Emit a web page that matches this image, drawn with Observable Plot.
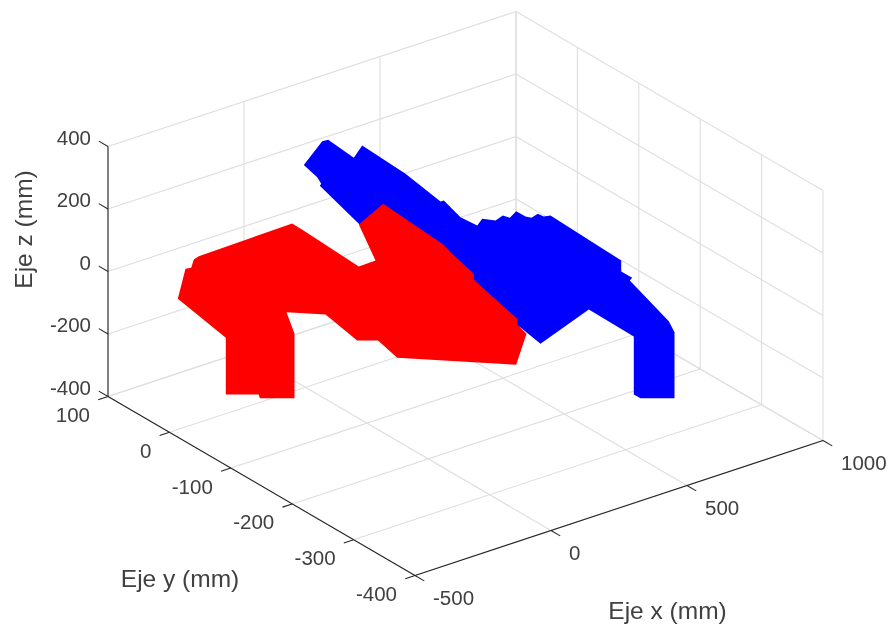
<!DOCTYPE html>
<html>
<head>
<meta charset="utf-8">
<style>
html,body{margin:0;padding:0;background:#fff}
svg{display:block;filter:blur(0.5px)}
</style>
<script src="https://cdn.jsdelivr.net/npm/d3@7"></script>
<script src="https://cdn.jsdelivr.net/npm/@observablehq/plot@0.6"></script>
</head>
<body>
<div id="chart"></div>
<script>
// Axis ticks (mm)
const xTicks = [-500, 0, 500, 1000];
const yTicks = [-400, -300, -200, -100, 0, 100];
const zTicks = [-400, -200, 0, 200, 400];

// Silhouettes of the two arm poses, read on the picture plane
const blueU = [303.3,321.7,327.7,353.3,361.7,405,440,443.3,460,476.7,481.7,495,502.3,509.3,515.7,525,531,537.3,543.3,550,620.7,620.7,631.7,629.3,668.3,674,674,640,633.3,633.3,588.3,540,520,358.3,319.3,320.7,316.7];
const blueV = [164.6,140.7,139.3,157.3,145,173.3,201,200,216.7,225,218.3,220,215,217.3,210.7,216,217.3,213.3,216,215,260,271,277.3,280,320.7,331.7,397.7,397.7,394,336,309,343.3,327,223.3,185.3,183.3,176.7];
const redU = [177.3,185,190.7,193.3,198.3,291.7,303,358.3,375,358.3,382.7,441.7,453.3,473.3,473.3,516.7,516.7,526,515.7,396.7,377.5,356.7,325,286,294,294,259.3,258.3,225.3,225.3];
const redV = [298.3,268.3,267.3,259,255.7,223,230,266,260,224,203.3,243.3,255,273.3,279.3,318.3,324,333.3,364.3,357.3,340,340,314,311.7,333.3,397.7,397.7,394,394,337.3];
const blue = blueU.map((u, i) => ({u, v: blueV[i]}));
const red = redU.map((u, i) => ({u, v: redV[i]}));

// Orthographic view of the 3D box onto the picture plane
const view = ([X, Y, Z]) => ({
  u: 414.5 + (X + 500) * 0.272 - (Y + 400) * 0.614,
  v: 575 - (X + 500) * 0.09 - (Y + 400) * 0.358 - (Z + 400) * 0.3125
});
const seg = (a, b) => { const p = view(a), q = view(b); return {x1: p.u, y1: p.v, x2: q.u, y2: q.v}; };
const X0 = -500, X1 = 1000, Y0 = -400, Y1 = 100, Z0 = -400, Z1 = 400;

const grid = [
  ...xTicks.map(x => seg([x, Y0, Z0], [x, Y1, Z0])),
  ...yTicks.map(y => seg([X0, y, Z0], [X1, y, Z0])),
  ...xTicks.map(x => seg([x, Y1, Z0], [x, Y1, Z1])),
  ...zTicks.map(z => seg([X0, Y1, z], [X1, Y1, z])),
  ...yTicks.map(y => seg([X1, y, Z0], [X1, y, Z1])),
  ...zTicks.map(z => seg([X1, Y0, z], [X1, Y1, z]))
];
const axes = [
  seg([X0, Y0, Z0], [X1, Y0, Z0]),
  seg([X0, Y0, Z0], [X0, Y1, Z0]),
  seg([X0, Y1, Z0], [X0, Y1, Z1])
];
const ticks = [
  ...xTicks.map(x => seg([x, Y0, Z0], [x, Y0 - 15, Z0])),
  ...yTicks.map(y => seg([X0, y, Z0], [X0 - 36, y, Z0])),
  ...zTicks.map(z => seg([X0, Y1, z], [X0, Y1 + 15, z]))
];
const xLabels = xTicks.map(x => ({...view([x, Y0, Z0]), t: String(x)}));
const yLabels = yTicks.map(y => ({...view([X0, y, Z0]), t: String(y)}));
const zLabels = zTicks.map(z => ({...view([X0, Y1, z]), t: String(z)}));

const font = "'Liberation Sans', Arial, sans-serif";
const ink = "#404040";
const tickText = (data, opts) => Plot.text(data, {x: "u", y: "v", text: "t", fontSize: 20.5, fill: ink, lineAnchor: "middle", ...opts});
const axisTitle = (t, u, v, rotate = 0) => Plot.text([{u, v, t}], {x: "u", y: "v", text: "t", fontSize: 24.5, fill: ink, lineAnchor: "middle", rotate});

const chart = Plot.plot({
  width: 889,
  height: 625,
  margin: 0,
  style: {fontFamily: font, background: "#fff"},
  x: {domain: [0, 889], range: [0, 889], axis: null},
  y: {domain: [0, 625], range: [0, 625], axis: null},
  marks: [
    Plot.link(grid, {x1: "x1", y1: "y1", x2: "x2", y2: "y2", stroke: "#dedede", strokeWidth: 1.1}),
    Plot.line(blue, {x: "u", y: "v", fill: "#0000ff", stroke: "none"}),
    Plot.line(red, {x: "u", y: "v", fill: "#ff0000", stroke: "none"}),
    Plot.link(axes, {x1: "x1", y1: "y1", x2: "x2", y2: "y2", stroke: "#262626", strokeWidth: 1.1}),
    Plot.link(ticks, {x1: "x1", y1: "y1", x2: "x2", y2: "y2", stroke: "#262626", strokeWidth: 1.1}),
    tickText(xLabels, {textAnchor: "start", dx: 18, dy: 22.5}),
    tickText(yLabels, {textAnchor: "end", dx: -18, dy: 19}),
    tickText(zLabels, {textAnchor: "end", dx: -17, dy: -8.5}),
    axisTitle("Eje x (mm)", 667, 610.5),
    axisTitle("Eje y (mm)", 179.5, 578.5),
    axisTitle("Eje z (mm)", 24, 229, -90)
  ]
});
document.getElementById("chart").appendChild(chart);
</script>
</body>
</html>
